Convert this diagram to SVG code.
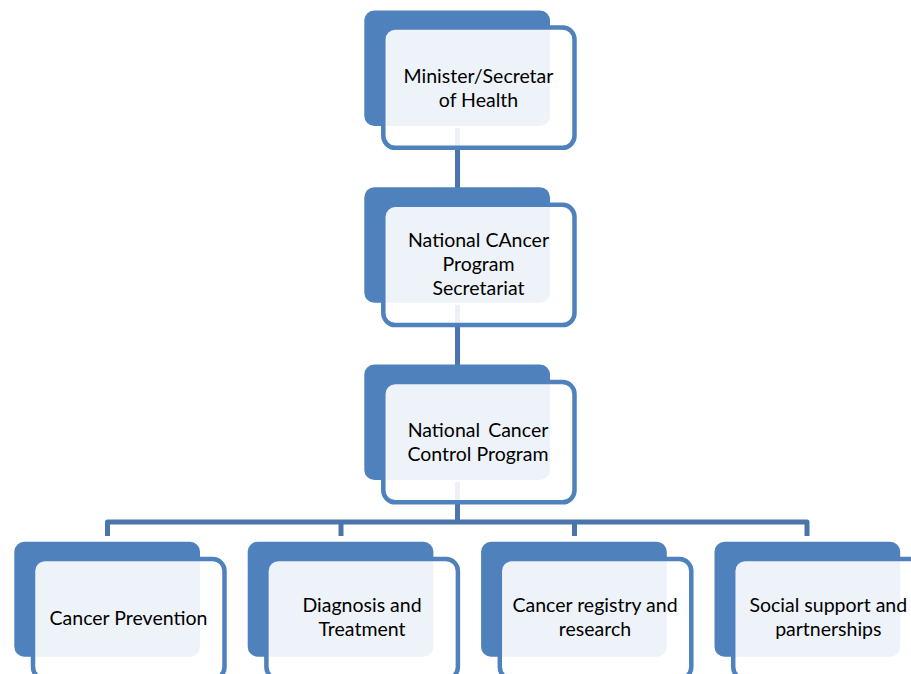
<svg xmlns="http://www.w3.org/2000/svg" width="911" height="674" viewBox="0 0 911 674">
<style>
.back{fill:#4F81BD}
.front{fill:#FFFFFF;fill-opacity:0.9;stroke:#4F81BD;stroke-width:4.5}
.conn{fill:none;stroke:#4A74AA;stroke-width:5;stroke-linejoin:round}
text{font-family:Lato,"Liberation Sans",sans-serif;font-size:19.5px;fill:#000000;text-anchor:middle}
</style>
<rect width="911" height="674" fill="#FFFFFF"/>
<g id="connectors">
<path class="conn" d="M457.5,128 V190"/>
<path class="conn" d="M457.5,305 V367"/>
<path class="conn" d="M457.5,482 V522"/>
<path class="conn" d="M107.5,536 V522 H807 V536"/>
<path class="conn" d="M341,522 V536"/>
<path class="conn" d="M574.5,522 V536"/>
</g>
<g id="node-minister">
<rect class="back" x="364.3" y="10.5" width="185.7" height="115.5" rx="10"/>
<rect class="front" x="383.3" y="27.5" width="191.2" height="120.3" rx="12"/>
<text x="478.5" y="83">Minister/Secretar</text>
<text x="478.5" y="107">of Health</text>
</g>
<g id="node-secretariat">
<rect class="back" x="364.3" y="187.3" width="185.7" height="115.5" rx="10"/>
<rect class="front" x="383.3" y="204.8" width="191.2" height="120.3" rx="12"/>
<text x="478.5" y="246.5">National CAncer</text>
<text x="478.5" y="270.5">Program</text>
<text x="478.5" y="294.5">Secretariat</text>
</g>
<g id="node-nccp">
<rect class="back" x="364.3" y="364.5" width="185.7" height="115.5" rx="10"/>
<rect class="front" x="383.3" y="382" width="191.2" height="120.3" rx="12"/>
<text y="437"><tspan x="407.7" style="text-anchor:start">National</tspan><tspan x="548.3" style="text-anchor:end">Cancer</tspan></text>
<text x="478" y="460.5">Control Program</text>
</g>
<g id="node-prevention">
<rect class="back" x="14.3" y="541.7" width="185.7" height="115" rx="10"/>
<rect class="front" x="33" y="559" width="191.5" height="120" rx="12"/>
<text x="128.5" y="625">Cancer Prevention</text>
</g>
<g id="node-diagnosis">
<rect class="back" x="247.7" y="541.7" width="185.7" height="115" rx="10"/>
<rect class="front" x="266.4" y="559" width="191.5" height="120" rx="12"/>
<text x="362" y="612">Diagnosis and</text>
<text x="362" y="636">Treatment</text>
</g>
<g id="node-registry">
<rect class="back" x="481.1" y="541.7" width="185.7" height="115" rx="10"/>
<rect class="front" x="499.8" y="559" width="191.5" height="120" rx="12"/>
<text x="595" y="612">Cancer registry and</text>
<text x="595" y="636">research</text>
</g>
<g id="node-social">
<rect class="back" x="714.5" y="541.7" width="185.7" height="115" rx="10"/>
<rect class="front" x="733.2" y="559" width="191.5" height="120" rx="12"/>
<text x="828.3" y="612">Social support and</text>
<text x="828.3" y="636">partnerships</text>
</g>
</svg>
